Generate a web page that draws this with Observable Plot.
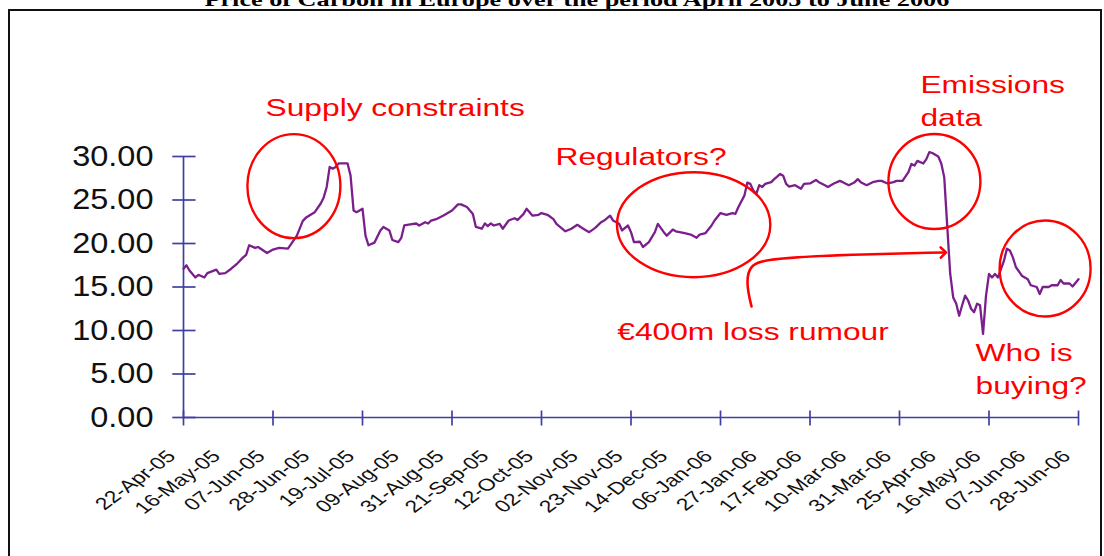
<!DOCTYPE html>
<html><head><meta charset="utf-8">
<script src="https://cdn.jsdelivr.net/npm/d3@7"></script>
<script src="https://cdn.jsdelivr.net/npm/@observablehq/plot@0.6"></script>
<style>
html,body{margin:0;padding:0;background:#fff;width:1104px;height:556px;overflow:hidden;position:relative;}
#frame{position:absolute;left:8px;top:9px;width:1094px;height:700px;border:2px solid #111;box-sizing:border-box;}
#title{position:absolute;left:0;top:-10px;width:1154px;text-align:center;font:bold 19px "Liberation Serif",serif;line-height:19px;white-space:nowrap;color:#000;}
#title span{display:inline-block;transform:scaleX(1.38);transform-origin:center;}
#chart{position:absolute;left:0;top:0;}
</style></head><body>
<div id="title"><span>Price of Carbon in Europe over the period April 2005 to June 2006</span></div>
<div id="frame"></div>
<div id="chart"></div>
<script>
// Trading-day index (0 = 22-Apr-05, 300 = 28-Jun-06) and price (EUR/t)
const tradingDay = [0,1,2,4,5,7,8,11,12,14,16,18,20,21,22,24,25,28,30,32,35,36,38,40,41,43,44,46,47,48,49,50,51,52,55,56,57,58,60,61,62,64,66,67,69,70,72,73,74,76,78,79,81,82,83,85,87,88,90,92,93,95,97,98,100,101,102,103,104,106,107,109,111,112,114,115,117,119,120,122,124,125,128,130,132,134,136,138,140,141,143,144,146,147,149,150,151,153,154,156,158,159,161,162,164,165,168,170,172,173,175,177,178,180,182,184,185,186,188,189,190,191,192,193,194,195,197,198,199,200,201,202,203,205,207,208,210,212,213,215,216,218,220,221,223,225,226,227,229,231,233,234,236,238,239,241,243,244,245,246,248,249,250,251,253,254,255,256,257,258,259,260,261,262,263,264,265,266,267,268,269,270,271,272,273,275,276,277,278,279,281,282,283,284,286,287,288,290,291,293,294,295,297,298,300];
const price = [17.1,17.5,16.9,16.1,16.4,16.1,16.6,17.0,16.5,16.6,17.1,17.7,18.4,18.7,19.8,19.5,19.6,18.9,19.3,19.5,19.4,19.9,20.9,22.6,22.95,23.4,23.6,24.6,25.3,26.5,28.8,28.6,28.8,29.2,29.2,27.8,23.8,23.6,24.0,20.9,19.8,20.1,21.5,21.9,21.5,20.4,20.15,20.65,22.07,22.2,22.3,22.07,22.45,22.3,22.64,22.84,23.2,23.4,23.8,24.5,24.5,24.2,23.4,21.9,21.7,22.3,22.0,22.3,22.07,22.26,21.7,22.64,22.9,22.7,23.4,24.0,23.2,23.3,23.5,23.3,22.8,22.26,21.4,21.7,22.15,21.7,21.3,21.8,22.45,22.64,23.2,22.64,22.26,21.5,22.07,21.3,20.15,20.2,19.6,20.15,21.3,22.26,21.3,20.9,21.6,21.4,21.2,21.03,20.65,21.03,21.2,22.07,22.64,23.5,23.3,23.5,23.4,24.2,25.5,27.0,26.85,26.1,25.7,26.7,26.5,26.85,27.05,27.4,27.7,28.0,27.8,26.85,26.55,26.7,26.3,26.85,26.9,27.3,27.05,26.7,26.5,26.9,27.2,27.05,26.7,27.05,27.4,27.05,26.7,27.05,27.2,27.2,26.9,27.05,27.2,27.2,28.2,29.15,28.96,29.5,29.2,29.7,30.5,30.4,30.0,29.2,27.6,22.0,16.5,13.8,13.1,11.7,12.9,14.0,13.45,12.5,12.1,13.07,12.9,9.6,14.0,16.5,16.1,16.5,16.1,18.0,19.4,19.2,18.4,17.3,16.3,16.1,15.9,15.2,15.0,14.2,15.0,15.0,15.2,15.2,15.8,15.4,15.4,15.06,15.9];

const dateLabels = ["22-Apr-05","16-May-05","07-Jun-05","28-Jun-05","19-Jul-05","09-Aug-05","31-Aug-05","21-Sep-05","12-Oct-05","02-Nov-05","23-Nov-05","14-Dec-05","06-Jan-06","27-Jan-06","17-Feb-06","10-Mar-06","31-Mar-06","25-Apr-06","16-May-06","07-Jun-06","28-Jun-06"];
const labelDays = [0,15,30,45,60,75,90,105,120,135,150,165,180,195,210,225,240,255,270,285,300];
const tickDays = [0,30,60,90,120,150,180,210,240,270,300];
const yTicks = [0,5,10,15,20,25,30];

const noteText = ["Supply constraints","Regulators?","Emissions","data","€400m loss rumour","Who is","buying?"];
const noteDay = [27.5,124.7,247.0,247.0,145.4,265.5,265.5];
const noteValue = [35.5,29.9,38.16,34.37,9.83,7.36,3.62];

const circleDay = [37.0,171.0,251.7,288.8];
const circleValue = [26.6,22.16,27.13,17.13];

const arrowDay = [190.4,188.7,189.4,196.8,223.6,254.7];
const arrowValue = [12.76,15.17,17.59,18.28,18.74,18.97];

const series = tradingDay.map((d,i)=>({day:d, price:price[i]}));
const labels = dateLabels.map((t,i)=>({t, day:labelDays[i]}));
const notes = noteText.map((t,i)=>({t, day:noteDay[i], v:noteValue[i]}));
const arrowPts = arrowDay.map((d,i)=>({day:d, v:arrowValue[i]}));

const AXIS = "#3f3fa2", RED = "#ff0000", PURPLE = "#7a1f8c";

function ellipse(aspect){
  return {draw(ctx,size){
    const ry=Math.sqrt(size/Math.PI), rx=ry*aspect, k=0.5523;
    ctx.moveTo(rx,0);
    ctx.bezierCurveTo(rx,k*ry,k*rx,ry,0,ry);
    ctx.bezierCurveTo(-k*rx,ry,-rx,k*ry,-rx,0);
    ctx.bezierCurveTo(-rx,-k*ry,-k*rx,-ry,0,-ry);
    ctx.bezierCurveTo(k*rx,-ry,rx,-k*ry,rx,0);
    ctx.closePath();
  }};
}
const hTick = {draw(ctx,size){const r=Math.sqrt(size/Math.PI); ctx.moveTo(-r,0); ctx.lineTo(r,0);}};
const vTick = {draw(ctx,size){const r=Math.sqrt(size/Math.PI); ctx.moveTo(0,-r); ctx.lineTo(0,r);}};

const circleStyle = [
  {aspect:0.894, r:52},
  {aspect:1.46, r:52.5},
  {aspect:0.968, r:47.5},
  {aspect:0.948, r:48}
];

const svg = Plot.plot({
  width:1104, height:556,
  marginLeft:183, marginRight:26, marginTop:156, marginBottom:139,
  x:{domain:[0,300], axis:null},
  y:{domain:[0,30], axis:null},
  style:{background:"transparent", overflow:"visible", fontFamily:"'Liberation Sans', Arial, sans-serif"},
  marks:[
    Plot.ruleY([0], {x1:0, x2:300, stroke:AXIS, strokeWidth:1.7}),
    Plot.ruleX([0], {y1:0, y2:30, stroke:AXIS, strokeWidth:1.7}),
    Plot.dot(yTicks, {x:()=>0, y:d=>d, symbol:hTick, r:11.6, dx:0.4, stroke:AXIS, strokeWidth:1.7, fill:"none"}),
    Plot.dot(tickDays, {x:d=>d, y:()=>0, symbol:vTick, r:7.5, dy:0.5, stroke:AXIS, strokeWidth:1.7, fill:"none"}),
    Plot.text(yTicks, {y:d=>d, frameAnchor:"left", text:d=>d.toFixed(2), textAnchor:"end", dx:-30, fontSize:29, fill:"#111"}),
    Plot.text(labels, {x:"day", frameAnchor:"bottom", text:"t", rotate:-45, textAnchor:"end", lineAnchor:"middle", dx:-12, dy:36, fontSize:17, fill:"#111"}),
    Plot.line(series, {x:"day", y:"price", stroke:PURPLE, strokeWidth:2.3}),
    ...circleDay.map((d,i)=>Plot.dot([{day:d, v:circleValue[i]}], {x:"day", y:"v", symbol:ellipse(circleStyle[i].aspect), r:circleStyle[i].r, stroke:RED, strokeWidth:2.4, fill:"none"})),
    Plot.line(arrowPts, {x:"day", y:"v", curve:"basis", stroke:RED, strokeWidth:2.6, markerEnd:"arrow"}),
    Plot.text(notes, {x:"day", y:"v", text:"t", textAnchor:"start", lineAnchor:"middle", fontSize:23.5, fill:RED})
  ]
});
document.getElementById("chart").append(svg);

function stretch(size, k){
  svg.querySelectorAll(`g[font-size="${size}"] text`).forEach(t=>{
    const L=t.getComputedTextLength();
    t.setAttribute("textLength", L*k);
    t.setAttribute("lengthAdjust","spacingAndGlyphs");
  });
}
stretch("23.5", 1.35);
stretch("29", 1.12);
svg.querySelectorAll('g[font-size="17"] text').forEach(t=>{
  const tr=t.getAttribute("transform");
  if (tr) t.setAttribute("transform", tr.replace("rotate(", "scale(1.35,1) rotate("));
});
</script>
</body></html>
